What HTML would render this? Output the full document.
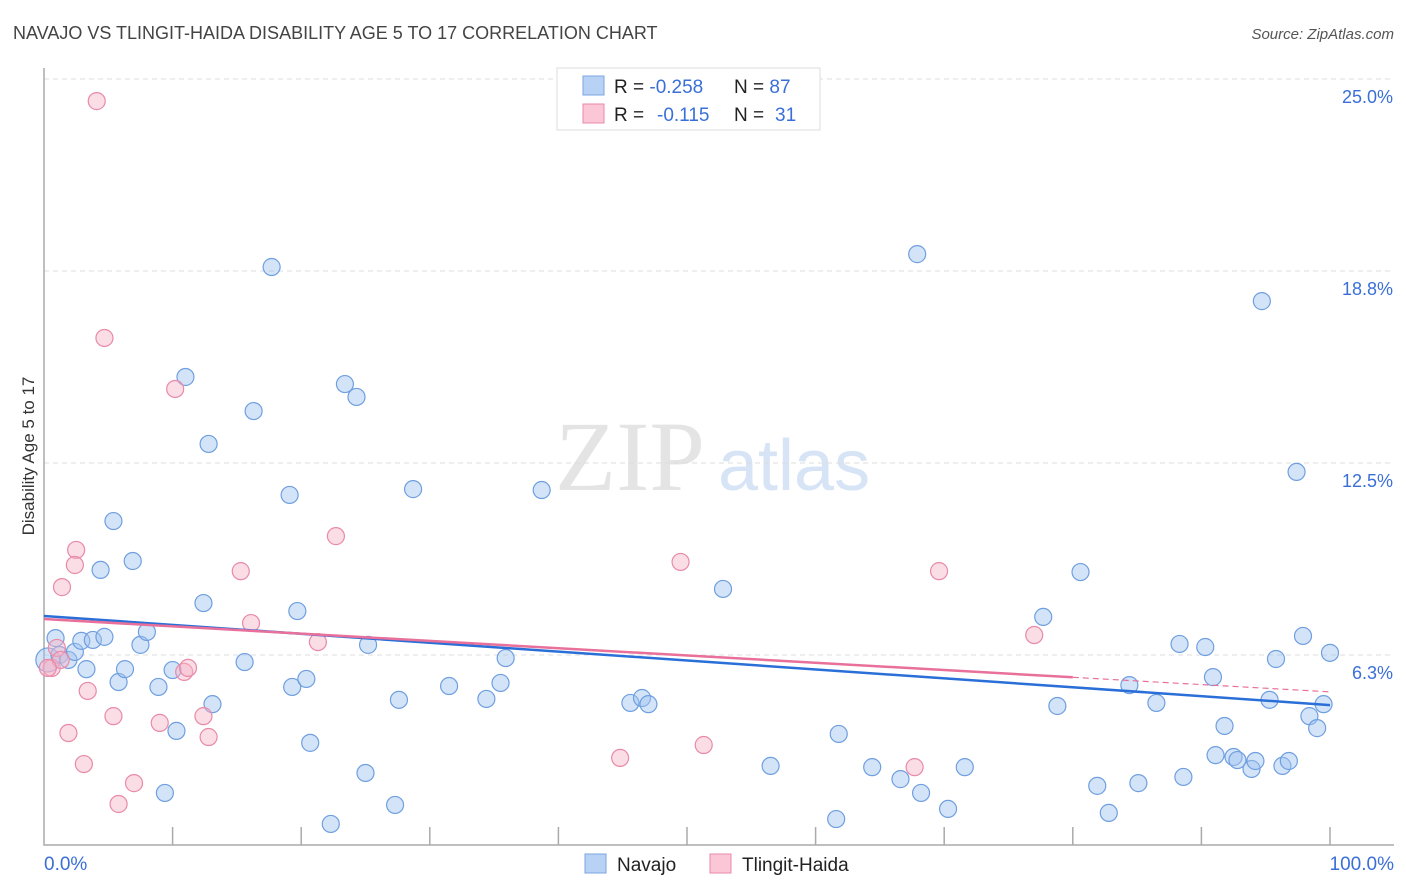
<!DOCTYPE html>
<html><head><meta charset="utf-8"><style>
body{margin:0;background:#fff;font-family:"Liberation Sans",sans-serif}
#wrap{position:relative;width:1406px;height:892px;overflow:hidden}
</style></head><body>
<div id="wrap">
<svg id="svg" width="1406" height="892" xmlns="http://www.w3.org/2000/svg">
<text x="13" y="39" font-size="18" fill="#444">NAVAJO VS TLINGIT-HAIDA DISABILITY AGE 5 TO 17 CORRELATION CHART</text>
<text x="1394" y="39" font-size="15" fill="#555" font-style="italic" text-anchor="end">Source: ZipAtlas.com</text>
<text x="34" y="456" font-size="17" fill="#333" text-anchor="middle" transform="rotate(-90 34 456)">Disability Age 5 to 17</text>
<text x="555" y="490" font-size="100" fill="#e4e4e4" font-family="Liberation Serif,serif">ZIP</text>
<text x="718" y="490" font-size="72" fill="#d6e4f6">atlas</text>
<g id="grid"></g><g id="axes"></g><g id="pts"></g><g id="trend"></g>
<g>
<rect x="557" y="68" width="263" height="62" fill="#fff" stroke="#ddd"/>
<rect x="583" y="76" width="21" height="19" fill="#b8d2f5" stroke="#7aa6e0"/>
<rect x="583" y="104" width="21" height="19" fill="#fbc7d6" stroke="#e88aa8"/>
<text x="614" y="93" font-size="19" fill="#222">R = <tspan fill="#3a6fd8">-0.258</tspan></text>
<text x="734" y="93" font-size="19" fill="#222">N = <tspan fill="#3a6fd8">87</tspan></text>
<text x="614" y="121" font-size="19" fill="#222">R = </text><text x="657" y="121" font-size="19" fill="#3a6fd8">-0.115</text>
<text x="734" y="121" font-size="19" fill="#222">N = </text><text x="775" y="121" font-size="19" fill="#3a6fd8">31</text>
</g>
<g>
<rect x="585" y="854" width="21" height="19" fill="#b8d2f5" stroke="#7aa6e0"/>
<text x="617" y="871" font-size="19" fill="#222">Navajo</text>
<rect x="710" y="854" width="21" height="19" fill="#fbc7d6" stroke="#e88aa8"/>
<text x="742" y="871" font-size="19" fill="#222">Tlingit-Haida</text>
</g>
<text x="44" y="870" font-size="19" fill="#3a6fd8">0.0%</text>
<text x="1394" y="870" font-size="19" fill="#3a6fd8" text-anchor="end">100.0%</text>
</svg>
</div>
<script>
const yTicks=[6.25,12.5,18.75,25];
const yTickLabels=["6.3%","12.5%","18.8%","25.0%"];
const navX=[0.9,0.3,1.2,1.9,2.4,2.9,3.3,3.8,4.7,5.4,4.4,5.8,6.3,6.9,7.5,8.0,8.9,9.4,10.0,10.3,11.0,12.4,12.8,13.1,15.6,16.3,17.7,19.1,19.3,19.7,20.4,20.7,22.3,23.4,24.3,25.0,25.2,27.3,27.6,28.7,31.5,34.4,35.5,35.9,38.7,45.6,46.5,47.0,52.8,56.5,61.6,61.8,64.4,66.6,67.9,68.2,70.3,71.6,77.7,78.8,80.6,81.9,82.8,84.4,85.1,86.5,88.3,88.6,90.3,90.9,91.1,91.8,92.5,92.8,93.9,94.2,94.7,95.3,95.8,96.3,96.8,97.4,97.9,98.4,99.0,99.5,100];
const navY=[6.80,6.09,6.25,6.09,6.35,6.71,5.79,6.74,6.84,10.61,9.02,5.37,5.79,9.31,6.58,7.00,5.21,1.76,5.76,3.78,15.30,7.94,13.12,4.65,6.02,14.19,18.88,11.46,5.21,7.68,5.47,3.39,0.75,15.07,14.65,2.41,6.58,1.37,4.79,11.65,5.24,4.82,5.34,6.15,11.62,4.69,4.85,4.65,8.40,2.64,0.91,3.68,2.60,2.21,19.30,1.76,1.24,2.60,7.49,4.59,8.95,1.99,1.11,5.27,2.08,4.69,6.61,2.28,6.51,5.53,2.99,3.94,2.93,2.83,2.54,2.80,17.77,4.79,6.12,2.64,2.80,12.21,6.87,4.26,3.87,4.65,6.32];
const tliX=[4.1,4.7,10.2,1.0,0.6,1.3,2.5,2.4,1.4,3.4,5.4,1.9,3.1,7.0,5.8,9.0,10.9,11.2,12.4,12.8,15.3,16.1,21.3,22.7,44.8,49.5,51.3,67.7,69.6,77.0,0.3];
const tliY=[24.28,16.57,14.91,6.48,5.83,6.09,9.67,9.18,8.46,5.08,4.26,3.71,2.70,2.08,1.40,4.04,5.70,5.83,4.26,3.58,8.98,7.29,6.67,10.12,2.90,9.28,3.32,2.60,8.98,6.90,5.83];
const navTrend=[7.52,4.62];
const tliTrend=[7.42,5.05];
const tliSolidEnd=80;
const xs=v=>44+v*12.86, ys=v=>847-v*30.72;
const NS="http://www.w3.org/2000/svg";
function mk(t,a,p){const e=document.createElementNS(NS,t);for(const k in a)e.setAttribute(k,a[k]);p.appendChild(e);return e;}
const grid=document.getElementById('grid'),axes=document.getElementById('axes'),pts=document.getElementById('pts'),tr=document.getElementById('trend');
yTicks.forEach((v,i)=>{
 const l=mk('line',{x1:44,x2:1394,y1:ys(v),y2:ys(v),stroke:'#ddd','stroke-dasharray':'5,4'},grid);
 
 
 const t=mk('text',{x:1393,y:ys(v)+24,'font-size':18,fill:'#3a6fd8','text-anchor':'end'},grid);
 t.textContent=yTickLabels[i];
 
 
});
const ax=mk('path',{d:'M44 68V845H1394',fill:'none',stroke:'#aaa','stroke-width':1.5},axes);


for(let i=1;i<=10;i++){const tk=mk('line',{x1:xs(i*10),x2:xs(i*10),y1:827,y2:845,stroke:'#aaa','stroke-width':1.5},axes);
 
 }
navX.forEach((x,i)=>{const big=(i===1);const c=mk('circle',{cx:xs(x),cy:ys(navY[i]),r:big?12:8.5,fill:'rgba(160,195,240,0.45)',stroke:'#6f9fe0','stroke-width':1.2},pts);
 
 });
tliX.forEach((x,i)=>{const c=mk('circle',{cx:xs(x),cy:ys(tliY[i]),r:8.5,fill:'rgba(247,180,200,0.45)',stroke:'#e88aa8','stroke-width':1.2},pts);
 
 });
const ty=v=>tliTrend[0]+(tliTrend[1]-tliTrend[0])*v/100;
let a=mk('line',{x1:xs(0),y1:ys(navTrend[0]),x2:xs(100),y2:ys(navTrend[1]),stroke:'#2a6fd8','stroke-width':2.5},tr);


let b=mk('line',{x1:xs(0),y1:ys(ty(0)),x2:xs(tliSolidEnd),y2:ys(ty(tliSolidEnd)),stroke:'#e8709a','stroke-width':2.5},tr);


let c=mk('line',{x1:xs(tliSolidEnd),y1:ys(ty(tliSolidEnd)),x2:xs(100),y2:ys(ty(100)),stroke:'#e8709a','stroke-width':1.2,'stroke-dasharray':'6,4'},tr);


</script>
</body></html>
